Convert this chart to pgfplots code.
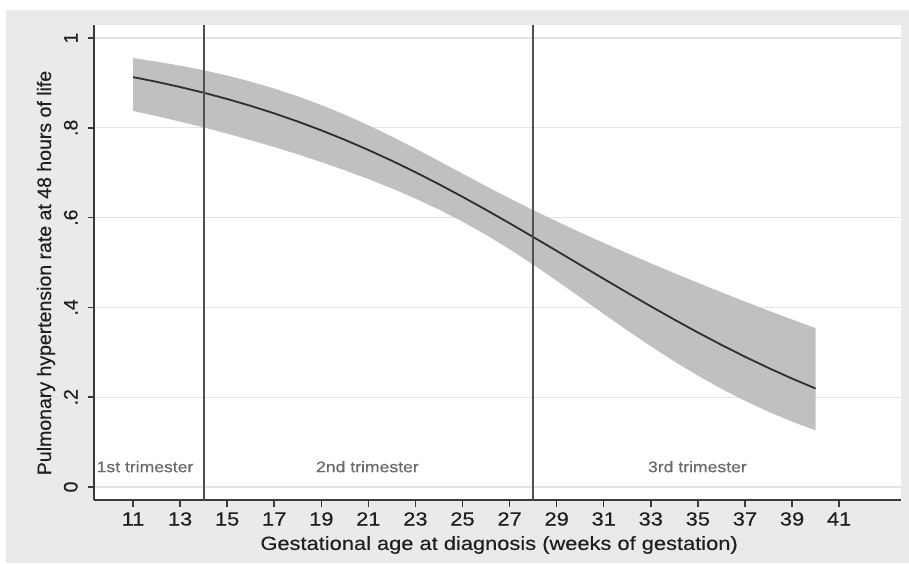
\documentclass[border=0pt]{standalone}
\usepackage{fontspec}
\setmainfont[FakeBold=0.35]{Liberation Sans}
\newfontfamily\wfont[FakeStretch=1.15,FakeBold=0.35]{Liberation Sans}
\usepackage{pgfplots}
\pgfplotsset{compat=1.18}
\usepackage{pgfplotstable}
\definecolor{bgout}{HTML}{EAEAEA}
\definecolor{bandc}{HTML}{C0C0C0}
\definecolor{axisc}{HTML}{3A3A3A}
\definecolor{gridc}{HTML}{E4E4E4}
\definecolor{vlinec}{HTML}{505050}
\definecolor{trimc}{HTML}{6A6A6A}
\definecolor{linec}{HTML}{2E2E2E}

\pgfplotstableread{
x mid
11 0.9129
12 0.9025
13 0.8909
14 0.8782
15 0.8642
16 0.8489
17 0.8322
18 0.8140
19 0.7944
20 0.7733
21 0.7506
22 0.7266
23 0.7011
24 0.6743
25 0.6463
26 0.6173
27 0.5874
28 0.5569
29 0.5259
30 0.4947
31 0.4636
32 0.4327
33 0.4024
34 0.3728
35 0.3441
36 0.3165
37 0.2901
38 0.2651
39 0.2415
40 0.2194
}\middata

% confidence band: upper limit from 11 to 40, then lower limit from 40 back to 11
\pgfplotstableread{
x y
11 0.9552
12 0.9475
13 0.9385
14 0.9282
15 0.9164
16 0.9028
17 0.8874
18 0.8701
19 0.8507
20 0.8292
21 0.8058
22 0.7805
23 0.7538
24 0.7260
25 0.6979
26 0.6700
27 0.6428
28 0.6167
29 0.5915
30 0.5672
31 0.5436
32 0.5207
33 0.4983
34 0.4763
35 0.4547
36 0.4336
37 0.4130
38 0.3928
39 0.3731
40 0.3539
40 0.1261
39 0.1456
38 0.1675
37 0.1919
36 0.2187
35 0.2481
34 0.2797
33 0.3134
32 0.3488
31 0.3854
30 0.4225
29 0.4594
28 0.4954
27 0.5296
26 0.5616
25 0.5910
24 0.6179
23 0.6424
22 0.6650
21 0.6859
20 0.7054
19 0.7237
18 0.7410
17 0.7572
16 0.7726
15 0.7871
14 0.8009
13 0.8138
12 0.8261
11 0.8377
}\banddata

\begin{document}
\begin{tikzpicture}
\path[use as bounding box] (0pt,0pt) rectangle (909pt,563pt);
\fill[white] (0pt,0pt) rectangle (909pt,563pt);
\fill[bgout] (6pt,0pt) rectangle (909pt,553pt);
\begin{axis}[
  at={(94pt,63pt)}, anchor=south west,
  scale only axis, width=807pt, height=475pt,
  xmin=9.343, xmax=43.63, ymin=-0.029, ymax=1.029,
  axis background/.style={fill=white},
  axis x line*=bottom, axis y line*=left,
  axis line style={axisc, line width=2pt},
  tick align=outside,
  major tick length=6.5pt,
  tick style={axisc, line width=1.5pt},
  xtick={11,13,15,17,19,21,23,25,27,29,31,33,35,37,39,41},
  xticklabels={11,13,15,17,19,21,23,25,27,29,31,33,35,37,39,41},
  ytick={0,0.2,0.4,0.6,0.8,1},
  yticklabels={0,.2,.4,.6,.8,1},
  ymajorgrids,
  major grid style={gridc, line width=1.2pt},
  xticklabel style={anchor=base, font=\wfont\fontsize{19}{20}\selectfont, text=black!88},
  xticklabel shift=19pt,
  yticklabel style={rotate=90, anchor=base, font=\fontsize{19.5}{20}\selectfont, text=black!88},
  yticklabel shift=10pt,
  xlabel={Gestational age at diagnosis (weeks of gestation)},
  xlabel style={at={(axis description cs:0.502,-0.0947)}, anchor=center, font=\wfont\fontsize{19}{22}\selectfont, text=black!88},
  ylabel={Pulmonary hypertension rate at 48 hours of life},
  ylabel style={at={(axis description cs:-0.0595,0.478)}, anchor=center, font=\fontsize{19.5}{22}\selectfont, text=black!88},
  clip=false,
]
\addplot[fill=bandc, draw=none] table[x=x,y=y]{\banddata} -- cycle;
\addplot[linec, line width=1.8pt] table[x=x,y=mid]{\middata};
\addplot[vlinec, line width=2pt] coordinates {(14,-0.029) (14,1.029)};
\addplot[vlinec, line width=2pt] coordinates {(28,-0.029) (28,1.029)};
\node[anchor=base, text=trimc, font=\wfont\fontsize{15.3}{16}\selectfont] at (axis cs:11.51,0.033) {1st trimester};
\node[anchor=base, text=trimc, font=\wfont\fontsize{15.3}{16}\selectfont] at (axis cs:20.96,0.033) {2nd trimester};
\node[anchor=base, text=trimc, font=\wfont\fontsize{15.3}{16}\selectfont] at (axis cs:34.98,0.033) {3rd trimester};
\end{axis}
\end{tikzpicture}
\end{document}
